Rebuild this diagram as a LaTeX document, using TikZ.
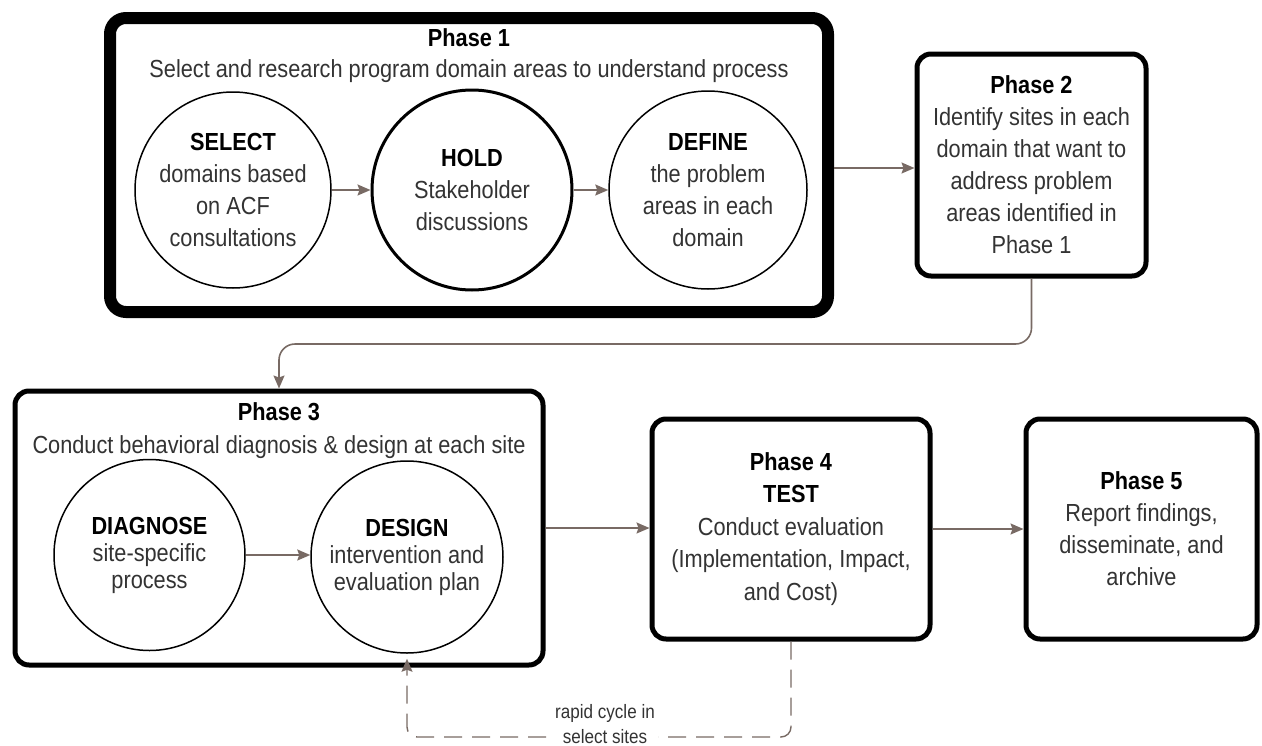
\documentclass[tikz,border=0pt]{standalone}
\usepackage{fontspec}
\setmainfont{Liberation Sans}[FakeStretch=0.88]
\usetikzlibrary{arrows.meta}
\definecolor{connc}{HTML}{786A64}
\definecolor{txt}{HTML}{333333}
\newcommand\fsmain{\fontsize{24.7}{32}\selectfont}
\newcommand\fstitle{\fontsize{24.7}{31.5}\selectfont}
\newcommand\fstight{\fontsize{24.7}{27}\selectfont}
\newcommand\fssmall{\fontsize{19.4}{25}\selectfont}
\newcommand\hd[1]{\textcolor{black}{\textbf{#1}}}
\begin{document}
\begin{tikzpicture}[x=1pt,y=-1pt,
  phasebox/.style={draw=black, rounded corners=14pt, line width=5pt, inner sep=0pt, fill=white, align=center, text=txt, font=\fsmain},
  bigbox/.style={phasebox, line width=12pt, rounded corners=16pt},
  heading/.style={anchor=north, align=center, text=txt, inner sep=0pt},
  stage/.style={circle, draw=black, line width=1.5pt, inner sep=0pt, align=center, text=txt, font=\fsmain},
  connector/.style={draw=connc, line width=1.6pt, -{Stealth[length=13pt,width=11pt,inset=2pt]}},
  rapidloop/.style={connector, line width=1.4pt, dash pattern=on 18pt off 10pt, rounded corners=10pt},
]
\useasboundingbox (0,0) rectangle (1262,745);

% Phase 1
\node[bigbox, minimum width=718pt, minimum height=294pt] (p1) at (469,165) {};
\node[heading, font=\fstitle] (p1title) at (469,28) {\hd{Phase 1}\\Select and research program domain areas to understand process};
\node[stage, minimum size=196pt] (select) at (233,190) {\hd{SELECT}\\domains based\\on ACF\\consultations};
\node[stage, minimum size=200pt, line width=3pt] (hold) at (472,190) {\hd{HOLD}\\Stakeholder\\discussions};
\node[stage, minimum size=198pt] (define) at (708,190) {\hd{DEFINE}\\the problem\\areas in each\\domain};

% Phase 2
\node[phasebox, minimum width=229pt, minimum height=222pt] (p2) at (1031.5,165) {\hd{Phase 2}\\Identify sites in each\\domain that want to\\address problem\\areas identified in\\Phase 1};

% Phase 3
\node[phasebox, minimum width=528pt, minimum height=274pt] (p3) at (279,528) {};
\node[heading, font=\fontsize{24.7}{33}\selectfont] (p3title) at (279,402) {\hd{Phase 3}\\Conduct behavioral diagnosis \& design at each site};
\node[stage, minimum size=191pt, font=\fstight] (diag) at (149.5,555) {\hd{DIAGNOSE}\\site-specific\\process};
\node[stage, minimum size=192pt, font=\fstight] (design) at (407,557) {\hd{DESIGN}\\intervention and\\evaluation plan};

% Phase 4 and 5
\node[phasebox, minimum width=278pt, minimum height=220pt, font=\fontsize{24.7}{32.5}\selectfont] (p4) at (791,529) {\hd{Phase 4}\\\hd{TEST}\\Conduct evaluation\\(Implementation, Impact,\\and Cost)};
\node[phasebox, minimum width=231pt, minimum height=220pt] (p5) at (1141.5,529) {\hd{Phase 5}\\Report findings,\\disseminate, and\\archive};

% connectors
\draw[connector] (select) -- (hold);
\draw[connector] (hold) -- (define);
\draw[connector] ([yshift=-3pt]p1.east) -- ([yshift=-3pt]p2.west);
\coordinate (bend) at (0,344);
\draw[connector, rounded corners=16pt] (p2.south) -- (p2.south |- bend) -- (p3.north |- bend) -- (p3.north);
\draw[connector] (p3.east) -- (p3.east -| p4.west);
\draw[connector] (p4) -- (p5);
\draw[connector] (diag) -- (diag -| design.west);

% rapid cycle loop
\coordinate (lb) at (0,737);
\draw[rapidloop] (p4.south) -- (p4.south |- lb) -- (design.south |- lb) -- ([yshift=-5pt]design.south);
\node[fill=white, inner sep=3pt, align=center, text=txt, font=\fssmall] (rapid) at (605,724) {rapid cycle in\\select sites};
\end{tikzpicture}
\end{document}
